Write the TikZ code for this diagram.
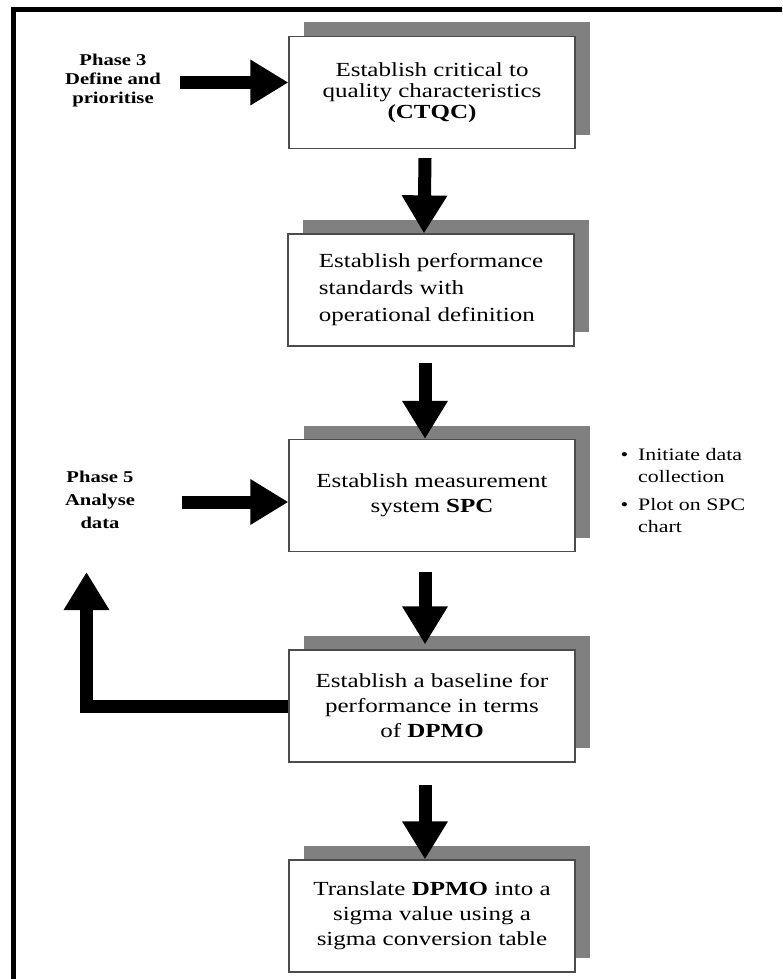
\documentclass[tikz,border=0pt]{standalone}
\usepackage{fontspec}
\setmainfont{Liberation Serif}
\newfontfamily\stretchserif[FakeStretch=1.25]{Liberation Serif}
\usetikzlibrary{arrows.meta,shadows}

\begin{document}
\begin{tikzpicture}[x=1pt,y=-1pt,
  stepbox/.style={draw=black!70, line width=1.2pt, fill=white,
    minimum width=286pt, minimum height=112pt, inner sep=0pt, align=center,
    font=\stretchserif\fontsize{20}{25}\selectfont,
    drop shadow={shadow xshift=15pt, shadow yshift=14pt, fill=black!50, opacity=1}},
  boxlead/.style={font=\stretchserif\fontsize{20}{#1}\selectfont},
  fat/.style={line width=13pt, -{Triangle[width=43pt,length=38pt]}},
  phase/.style={align=center, font=\stretchserif\bfseries\fontsize{16.5}{#1}\selectfont},
  note/.style={anchor=west, align=left, font=\stretchserif\fontsize{17.5}{22}\selectfont}
]
\useasboundingbox (0,0) rectangle (782,979);
\clip (0,0) rectangle (782,979);

% outer frame (only its top and left sides fall inside the page)
\draw[line width=5pt] (13.5,1000) -- (13.5,9.5) -- (800,9.5);

% process steps
\node[stepbox, boxlead=21] (b1) at (432,92.5)
  {Establish critical to\\quality characteristics\\\textbf{(CTQC)}};
\node[stepbox, boxlead=27, align=left] (b2) at (431,290)
  {Establish performance\\standards with\\operational definition};
\node[stepbox] (b3) at (432,495.5)
  {Establish measurement\\system \textbf{SPC}};
\node[stepbox] (b4) at (432,706)
  {Establish a baseline for\\performance in terms\\of \textbf{DPMO}};
\node[stepbox] (b5) at (432,916)
  {Translate \textbf{DPMO} into a\\sigma value using a\\sigma conversion table};

% side labels
\node[phase=19] (p3) at (113,81) {Phase 3\\Define and\\prioritise};
\node[phase=23] (p5) at (100,500) {Phase 5\\Analyse\\data};

\node[note] (n1) at (617,466)
  {\textbullet\hspace{10pt}Initiate data\\\hphantom{\textbullet\hspace{10pt}}collection};
\node[note] (n2) at (617,516)
  {\textbullet\hspace{10pt}Plot on SPC\\\hphantom{\textbullet\hspace{10pt}}chart};

% connectors
\coordinate (p3s) at (180,82.5);
\coordinate (p5s) at (182,502);
\coordinate (fb) at (86.5,572);

\draw[fat] (p3s) -- ([yshift=10pt]b1.west);
\draw[fat] (p5s) -- ([yshift=-6.5pt]b3.west);
\draw[fat] ([xshift=-7pt,yshift=-9pt]b1.south) -- ([xshift=-7pt]b2.north);
\draw[fat] ([xshift=-6pt,yshift=-16pt]b2.south) -- ([xshift=-7pt]b3.north);
\draw[fat] ([xshift=-7pt,yshift=-20pt]b3.south) -- ([xshift=-7pt,yshift=5pt]b4.north);
\draw[fat] ([xshift=-7pt,yshift=-22pt]b4.south) -- ([xshift=-7pt]b5.north);
\draw[fat] (b4.west) -| (fb);
\end{tikzpicture}
\end{document}
